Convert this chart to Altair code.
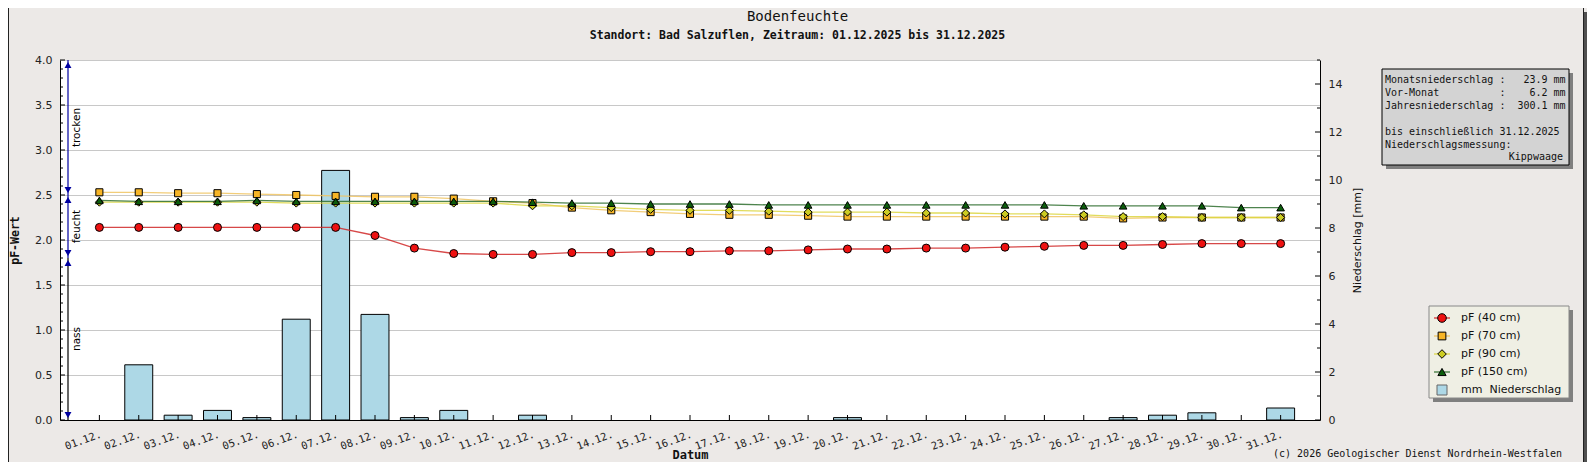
import altair as alt
import pandas as pd

# ---------------- data ----------------
dates = ["01.12.", "02.12.", "03.12.", "04.12.", "05.12.", "06.12.", "07.12.", "08.12.",
         "09.12.", "10.12.", "11.12.", "12.12.", "13.12.", "14.12.", "15.12.", "16.12.",
         "17.12.", "18.12.", "19.12.", "20.12.", "21.12.", "22.12.", "23.12.", "24.12.",
         "25.12.", "26.12.", "27.12.", "28.12.", "29.12.", "30.12.", "31.12."]

pf_40 = [2.14, 2.14, 2.14, 2.14, 2.14, 2.14, 2.14, 2.05, 1.91, 1.85, 1.84, 1.84, 1.86, 1.86,
         1.87, 1.87, 1.88, 1.88, 1.89, 1.90, 1.90, 1.91, 1.91, 1.92, 1.93, 1.94, 1.94, 1.95,
         1.96, 1.96, 1.96]
pf_70 = [2.53, 2.53, 2.52, 2.52, 2.51, 2.50, 2.49, 2.48, 2.48, 2.46, 2.43, 2.41, 2.36, 2.33,
         2.31, 2.29, 2.28, 2.28, 2.27, 2.26, 2.26, 2.26, 2.26, 2.26, 2.26, 2.26, 2.24, 2.25,
         2.25, 2.25, 2.25]
pf_90 = [2.42, 2.42, 2.42, 2.42, 2.42, 2.41, 2.41, 2.41, 2.41, 2.41, 2.41, 2.38, 2.38, 2.36,
         2.34, 2.33, 2.33, 2.32, 2.31, 2.31, 2.31, 2.30, 2.30, 2.29, 2.29, 2.28, 2.26, 2.26,
         2.25, 2.25, 2.25]
pf_150 = [2.44, 2.43, 2.43, 2.43, 2.44, 2.43, 2.43, 2.43, 2.43, 2.43, 2.43, 2.42, 2.41, 2.41,
          2.40, 2.40, 2.40, 2.39, 2.39, 2.39, 2.39, 2.39, 2.39, 2.39, 2.39, 2.38, 2.38, 2.38,
          2.38, 2.36, 2.36]
precip_mm = [0.0, 2.3, 0.2, 0.4, 0.1, 4.2, 10.4, 4.4, 0.1, 0.4, 0.0, 0.2, 0.0, 0.0, 0.0, 0.0,
             0.0, 0.0, 0.0, 0.1, 0.0, 0.0, 0.0, 0.0, 0.0, 0.0, 0.1, 0.2, 0.3, 0.0, 0.5]

series_names = ["pF (40 cm)", "pF (70 cm)", "pF (90 cm)", "pF (150 cm)"]
precip_label = "mm  Niederschlag"

zone_names = ["trocken", "feucht", "nass"]
zone_low = [2.5, 1.8, 0.0]
zone_high = [4.0, 2.5, 1.8]

pf_ticks = [0.0, 0.5, 1.0, 1.5, 2.0, 2.5, 3.0, 3.5, 4.0]
mm_ticks = [0, 2, 4, 6, 8, 10, 12, 14]
mm_minor_ticks = [1, 3, 5, 7, 9, 11, 13, 15]

title_text = "Bodenfeuchte"
subtitle_text = "Standort: Bad Salzuflen, Zeitraum: 01.12.2025 bis 31.12.2025"
info_labels = ["Monatsniederschlag", "Vor-Monat", "Jahresniederschlag"]
info_values = [23.9, 6.2, 300.1]
info_until = "bis einschließlich 31.12.2025"
info_method_label = "Niederschlagsmessung:"
info_method = "Kippwaage"
copyright_text = "(c) 2026 Geologischer Dienst Nordrhein-Westfalen"

# ---------------- style ----------------
W, H = 1260, 360
BG = "#ECE9E7"
MONO = "DejaVu Sans Mono"
SANS = "DejaVu Sans"
fills = ["#ee1111", "#f7b526", "#cccc22", "#0b5d0b"]
line_cols = ["#d02828", "#f0c461", "#dcd640", "#2f6e2f"]
shapes = ["circle", "square", "diamond", "triangle-up"]
sizes = [64, 50, 64, 58]
NAVY = "#0000a0"

pf_minor_ticks = [round(i * 0.1, 1) for i in range(41) if i % 5]

x_scale = alt.Scale(type="band", domain=dates, paddingInner=0.29, paddingOuter=0.645)
x_axis = alt.Axis(title="Datum", ticks=False, domainColor="black", grid=False,
                  labelAngle=340, labelAlign="right", labelBaseline="top", labelPadding=9,
                  labelFont=MONO, labelFontSize=10.5, labelColor="#222", labelOverlap=False,
                  titleFont=MONO, titleFontSize=12, titleFontWeight="bold", titleColor="#111",
                  titleX=630, titleY=34, titleAlign="center", titleBaseline="middle")


def X():
    return alt.X("date:N", scale=x_scale, axis=x_axis)


pf_scale = alt.Scale(domain=[0, 4], nice=False, zero=True)
pf_axis = alt.Axis(orient="left", values=pf_ticks, format=".1f", ticks=False,
                   domainColor="black", grid=True, gridColor="#c8c8c8",
                   labelFont=SANS, labelFontSize=11, labelColor="#222", labelPadding=8,
                   title="pF-Wert", titleFont=MONO, titleFontWeight="bold", titleFontSize=11.5,
                   titleColor="#111", titleAngle=270, titleX=-45, titleY=H / 2,
                   titleAlign="center", titleBaseline="middle")


def Ypf(field):
    return alt.Y(field + ":Q", scale=pf_scale, axis=pf_axis)


mm_scale = alt.Scale(domain=[0, 15], nice=False, zero=True)
mm_axis = alt.Axis(orient="right", values=mm_ticks, format="d", ticks=False, grid=False,
                   domainColor="black", labelFont=SANS, labelFontSize=11, labelColor="#222",
                   labelPadding=8, title="Niederschlag [mm]", titleFont=SANS,
                   titleFontWeight="normal", titleFontSize=11, titleColor="#111",
                   titleAngle=270, titleX=37, titleY=H / 2, titleAlign="center",
                   titleBaseline="middle")


def Ymm(field):
    return alt.Y(field + ":Q", scale=mm_scale, axis=mm_axis)


one = pd.DataFrame({"k": [0]})

# ---------------- precipitation layer (right axis) ----------------
mm_df = pd.DataFrame({"date": dates, "mm": precip_mm})
bars = alt.Chart(mm_df).transform_filter("datum.mm > 0").mark_bar(
    fill="#ADD8E6", stroke="black", strokeWidth=1).encode(x=X(), y=Ymm("mm"))
rt_major = alt.Chart(pd.DataFrame({"v": mm_ticks})).mark_rule(color="black").encode(
    y=Ymm("v"), x=alt.value(W), x2=alt.value(W - 5))
rt_minor = alt.Chart(pd.DataFrame({"v": mm_minor_ticks})).mark_rule(color="black").encode(
    y=Ymm("v"), x=alt.value(W), x2=alt.value(W - 3))
mm_layer = alt.layer(bars, rt_major, rt_minor)

# ---------------- pF layer (left axis) ----------------
rows = []
for s, vals in zip(series_names, [pf_40, pf_70, pf_90, pf_150]):
    for d, v in zip(dates, vals):
        rows.append({"date": d, "series": s, "pF": v})
pf_df = pd.DataFrame(rows)

pf_layers = []
lt_major = alt.Chart(pd.DataFrame({"v": pf_ticks})).mark_rule(color="black").encode(
    y=Ypf("v"), x=alt.value(0), x2=alt.value(5))
lt_minor = alt.Chart(pd.DataFrame({"v": pf_minor_ticks})).mark_rule(color="black").encode(
    y=Ypf("v"), x=alt.value(0), x2=alt.value(3))
xt = alt.Chart(mm_df).mark_rule(color="black").encode(x=X(), y=alt.value(H), y2=alt.value(H - 5))
pf_layers += [lt_major, lt_minor, xt]

for i, s in enumerate(series_names):
    pf_layers.append(
        alt.Chart(pf_df).transform_filter(alt.datum.series == s).mark_line(
            color=line_cols[i], strokeWidth=1.3, opacity=0.85).encode(x=X(), y=Ypf("pF")))
for i, s in enumerate(series_names):
    pf_layers.append(
        alt.Chart(pf_df).transform_filter(alt.datum.series == s).mark_point(
            shape=shapes[i], filled=True, fill=fills[i], stroke="black", strokeWidth=1,
            size=sizes[i], opacity=1).encode(x=X(), y=Ypf("pF")))

zone_df = pd.DataFrame({"name": zone_names, "lo": zone_low, "hi": zone_high})
zone_df["mid"] = (zone_df["lo"] + zone_df["hi"]) / 2
zone_df["lc"] = [NAVY, NAVY, "black"]
pf_layers.append(alt.Chart(zone_df).mark_rule(strokeWidth=1.2).encode(
    x=alt.value(8), y=Ypf("lo"), y2=alt.Y2("hi:Q"), color=alt.Color("lc:N", scale=None)))
pf_layers.append(alt.Chart(zone_df).mark_point(
    shape="triangle-up", filled=True, fill=NAVY, strokeWidth=0, size=48, opacity=1,
    yOffset=5).encode(x=alt.value(8), y=Ypf("hi")))
pf_layers.append(alt.Chart(zone_df).mark_point(
    shape="triangle-down", filled=True, fill=NAVY, strokeWidth=0, size=48, opacity=1,
    yOffset=-5).encode(x=alt.value(8), y=Ypf("lo")))
pf_layers.append(alt.Chart(zone_df).mark_text(
    angle=270, align="center", baseline="middle", font=SANS, fontSize=10.5,
    color="black").encode(x=alt.value(17), y=Ypf("mid"), text="name:N"))
pf_layer = alt.layer(*pf_layers)


# ---------------- decorations (pixel positioned) ----------------
def rect(x1, x2, y1, y2, **kw):
    return alt.Chart(one).mark_rect(**kw).encode(
        x=alt.value(x1), x2=alt.value(x2), y=alt.value(y1), y2=alt.value(y2))


def txt(text, x, y, **kw):
    return alt.Chart(pd.DataFrame({"t": [text]})).mark_text(**kw).encode(
        x=alt.value(x), y=alt.value(y), text="t:N")


def vline(x, y1, y2, **kw):
    return alt.Chart(one).mark_rule(**kw).encode(x=alt.value(x), y=alt.value(y1), y2=alt.value(y2))


nb = lambda s: s.replace(" ", "\u00a0")
deco = []
# frame (canvas spans plot x -52..1527, y -52..402)
deco.append(rect(1524, 1527, -48, 402, fill="#505050"))
deco.append(vline(-51.5, -52, 402, color="#222", strokeWidth=1))
deco.append(vline(1523.5, -52, 402, color="#222", strokeWidth=1))
# titles
deco.append(txt(title_text, 737.5, -43, font=MONO, fontSize=14, align="center",
                baseline="middle", color="#111"))
deco.append(txt(subtitle_text, 737.5, -24, font=MONO, fontSize=11.5, fontWeight="bold",
                align="center", baseline="middle", color="#111"))
# info box
deco.append(rect(1326, 1513, 13, 109, fill="#7f7f7f"))
deco.append(rect(1322, 1509, 9, 105, fill="#d3d3d3", stroke="black", strokeWidth=1))
info_lines = [f"{lab:<19}: {val:6.1f} mm" for lab, val in zip(info_labels, info_values)]
info_lines += ["", info_until, info_method_label]
for i, line in enumerate(info_lines):
    if line:
        deco.append(txt(nb(line), 1325, 20 + 12.9 * i, font=MONO, fontSize=10, align="left",
                        baseline="middle", color="#111"))
deco.append(txt(info_method, 1503, 20 + 12.9 * 6, font=MONO, fontSize=10, align="right",
                baseline="middle", color="#111"))
# legend box
deco.append(rect(1373, 1513, 250, 342, fill="#7f7f7f"))
deco.append(rect(1369, 1509, 246, 338, fill="#efefe4", stroke="#888888", strokeWidth=1))
for i, s in enumerate(series_names):
    py = 258 + 18 * i
    deco.append(alt.Chart(one).mark_rule(color=line_cols[i], strokeWidth=1.2).encode(
        x=alt.value(1374), x2=alt.value(1390), y=alt.value(py)))
    deco.append(alt.Chart(one).mark_point(
        shape=shapes[i], filled=True, fill=fills[i], stroke="black", strokeWidth=1,
        size=sizes[i] + 10, opacity=1).encode(x=alt.value(1382), y=alt.value(py)))
    deco.append(txt(s, 1401, py, font=SANS, fontSize=11, align="left", baseline="middle",
                    color="#111"))
py = 258 + 18 * 4
deco.append(alt.Chart(one).mark_square(size=100, fill="#ADD8E6", stroke="#666666",
                                       strokeWidth=1, opacity=1).encode(
    x=alt.value(1382), y=alt.value(py)))
deco.append(txt(nb(precip_label), 1401, py, font=SANS, fontSize=11, align="left",
                baseline="middle", color="#111"))
# copyright
deco.append(txt(copyright_text, 1502, 394, font=MONO, fontSize=10, align="right",
                baseline="middle", color="#111"))
deco_layer = alt.layer(*deco)

chart = alt.layer(mm_layer, pf_layer, deco_layer).resolve_scale(y="independent").properties(
    width=W, height=H, autosize=alt.AutoSizeParams(type="none"),
    padding={"left": 52, "top": 52, "right": 267, "bottom": 42},
).configure(background=BG, font=SANS).configure_view(fill="white", strokeWidth=0)

chart.save("out.html", embed_options={"renderer": "svg", "actions": False})
